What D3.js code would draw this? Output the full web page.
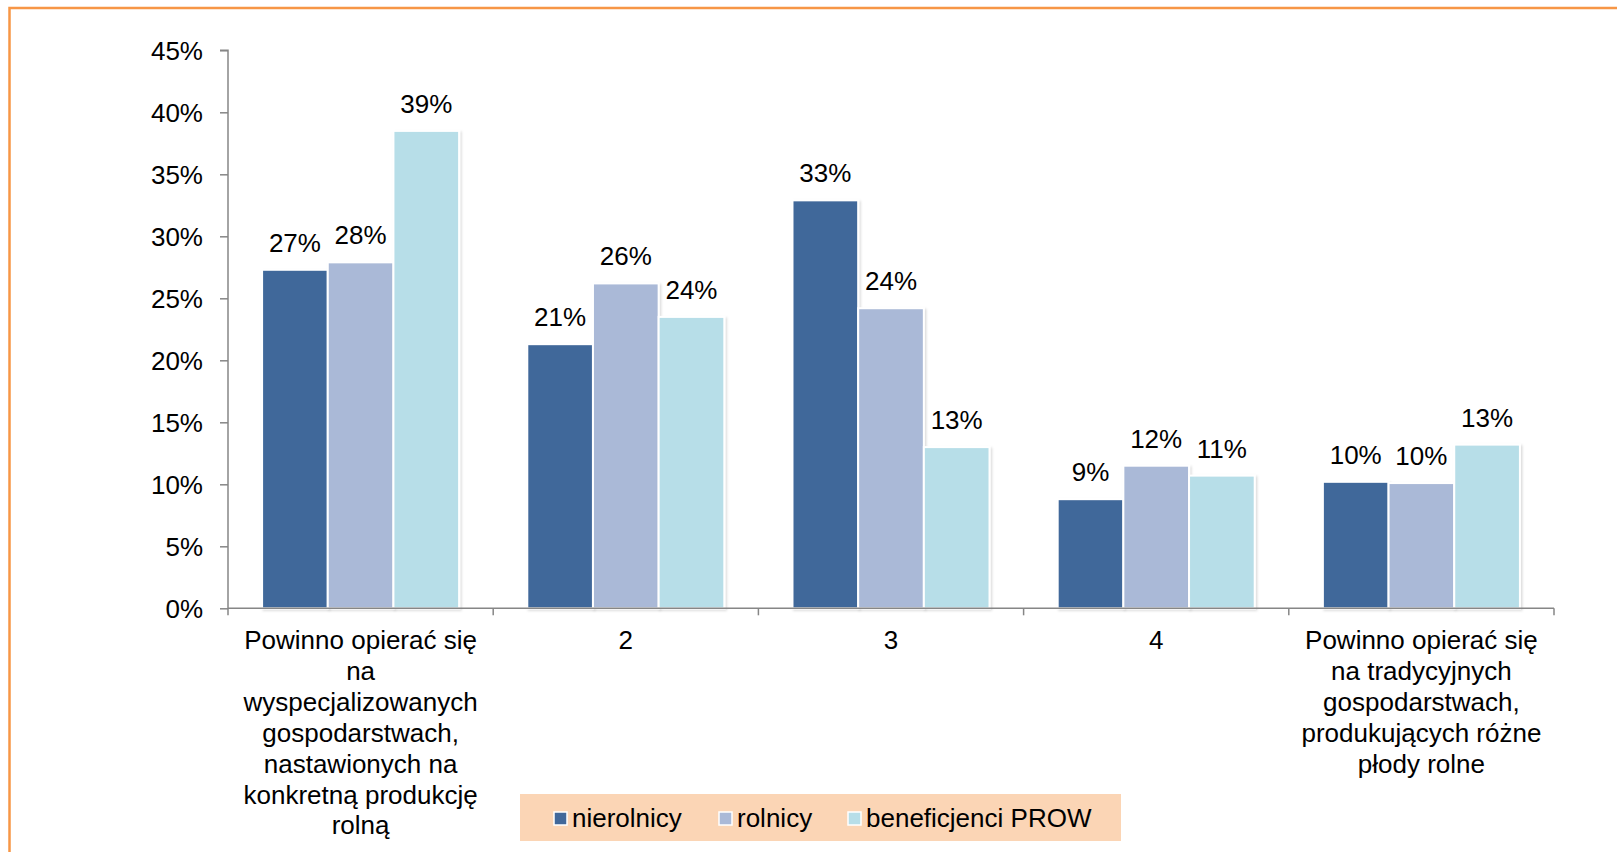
<!DOCTYPE html>
<html>
<head>
<meta charset="utf-8">
<script src="https://cdn.jsdelivr.net/npm/d3@7"></script>
<style>
  html, body { margin: 0; padding: 0; background: #ffffff; overflow: hidden; }
  svg { display: block; font-family: "Liberation Sans", Arial, sans-serif; }
</style>
</head>
<body>
<svg id="chart" width="1617" height="852"></svg>
<script>
// ---- data ----
const categories = [
  "Powinno opierać się\nna\nwyspecjalizowanych\ngospodarstwach,\nnastawionych na\nkonkretną produkcję\nrolną",
  "2",
  "3",
  "4",
  "Powinno opierać się\nna tradycyjnych\ngospodarstwach,\nprodukujących różne\npłody rolne"
];
const seriesNames = ["nierolnicy", "rolnicy", "beneficjenci PROW"];
const nierolnicy = [27.3, 21.3, 32.9, 8.8, 10.2];
const rolnicy = [27.9, 26.2, 24.2, 11.5, 10.1];
const beneficjenci = [38.5, 23.5, 13.0, 10.7, 13.2];
const yTicks = [0, 5, 10, 15, 20, 25, 30, 35, 40, 45];
const colors = ["#41689A", "#AAB9D7", "#B7DEE8"];

const seriesValues = [nierolnicy, rolnicy, beneficjenci];

// ---- layout ----
const svg = d3.select("#chart");
const plot = { left: 228, right: 1554, top: 50.3, bottom: 608.3 };
const fontSize = 26;
const axisColor = "#868686";

// outer orange frame (extends beyond right/bottom of the view)
svg.append("rect")
  .attr("x", 9.5).attr("y", 8)
  .attr("width", 1700).attr("height", 900)
  .attr("fill", "none")
  .attr("stroke", "#F79646")
  .attr("stroke-width", 2.5);

// shadow filter
const defs = svg.append("defs");
const f = defs.append("filter").attr("id", "shadow")
  .attr("x", "-10%").attr("y", "-10%").attr("width", "130%").attr("height", "130%");
f.append("feDropShadow").attr("dx", 1.5).attr("dy", 1.5).attr("stdDeviation", 1.2)
  .attr("flood-color", "#000").attr("flood-opacity", 0.15);

const x0 = d3.scaleBand().domain(d3.range(categories.length))
  .range([plot.left, plot.right]).paddingInner(0).paddingOuter(0);
const x1 = d3.scaleBand().domain(d3.range(seriesNames.length))
  .range([0, x0.bandwidth()]).paddingInner(0).paddingOuter(0.519);
const y = d3.scaleLinear().domain([0, 45]).range([plot.bottom, plot.top]);

// bars
const groups = svg.append("g").selectAll("g")
  .data(categories.map((c, i) => i))
  .join("g")
  .attr("transform", i => `translate(${x0(i)},0)`);

groups.selectAll("rect")
  .data(i => seriesValues.map((vals, s) => ({ s, v: vals[i] })))
  .join("rect")
  .attr("x", d => x1(d.s))
  .attr("y", d => y(d.v))
  .attr("width", x1.bandwidth())
  .attr("height", d => y(0) - y(d.v))
  .attr("fill", d => colors[d.s])
  .attr("stroke", "#ffffff")
  .attr("stroke-width", 2)
  .attr("filter", "url(#shadow)");

// data labels
groups.selectAll("text.lbl")
  .data(i => seriesValues.map((vals, s) => ({ s, v: vals[i] })))
  .join("text")
  .attr("class", "lbl")
  .attr("x", d => x1(d.s) + x1.bandwidth() / 2)
  .attr("y", d => y(d.v) - 18)
  .attr("text-anchor", "middle")
  .attr("font-size", fontSize)
  .attr("fill", "#000")
  .text(d => Math.round(d.v) + "%");

// y axis
const yAxis = d3.axisLeft(y).tickValues(yTicks).tickSize(8).tickPadding(17)
  .tickFormat(d => d + "%");
const gy = svg.append("g").attr("transform", `translate(${plot.left},0)`).call(yAxis);
gy.select(".domain").attr("stroke", axisColor).attr("stroke-width", 1.5)
  .attr("d", `M-8,${plot.top}H0V${plot.bottom}`);
gy.selectAll(".tick line").attr("stroke", axisColor).attr("stroke-width", 1.5);
gy.selectAll(".tick text").attr("font-size", fontSize).attr("fill", "#000")
  .attr("font-family", "Liberation Sans, Arial, sans-serif").attr("dy", "0.36em");

// x axis line + boundary ticks
const xa = svg.append("g");
xa.append("line")
  .attr("x1", plot.left).attr("x2", plot.right)
  .attr("y1", plot.bottom).attr("y2", plot.bottom)
  .attr("stroke", axisColor).attr("stroke-width", 1.5);
const boundaries = d3.range(categories.length + 1).map(i =>
  i < categories.length ? x0(i) : x0(categories.length - 1) + x0.bandwidth());
xa.selectAll("line.tk").data(boundaries).join("line")
  .attr("class", "tk")
  .attr("x1", d => d).attr("x2", d => d)
  .attr("y1", plot.bottom).attr("y2", plot.bottom + 7)
  .attr("stroke", axisColor).attr("stroke-width", 1.5);

// category labels
const lineH = 30.9;
const catText = xa.selectAll("text.cat").data(categories).join("text")
  .attr("class", "cat")
  .attr("text-anchor", "middle")
  .attr("font-size", fontSize)
  .attr("fill", "#000")
  .attr("transform", (d, i) => `translate(${x0(i) + x0.bandwidth() / 2},649)`);
catText.each(function(d) {
  const t = d3.select(this);
  d.split("\n").forEach((ln, k) => {
    t.append("tspan").attr("x", 0).attr("y", k * lineH).text(ln);
  });
});

// legend
const legend = svg.append("g");
legend.append("rect")
  .attr("x", 520).attr("y", 794)
  .attr("width", 601).attr("height", 47)
  .attr("fill", "#FBD5B5");
const legendX = [554, 719, 848];
const items = legend.selectAll("g.item").data(seriesNames).join("g")
  .attr("class", "item")
  .attr("transform", (d, i) => `translate(${legendX[i]},0)`);
items.append("rect")
  .attr("x", 0).attr("y", 812)
  .attr("width", 13).attr("height", 13)
  .attr("fill", (d, i) => colors[i])
  .attr("stroke", "#ffffff").attr("stroke-width", 1.5);
items.append("text")
  .attr("x", 18).attr("y", 827)
  .attr("font-size", fontSize)
  .attr("fill", "#000")
  .text(d => d);
</script>
</body>
</html>
